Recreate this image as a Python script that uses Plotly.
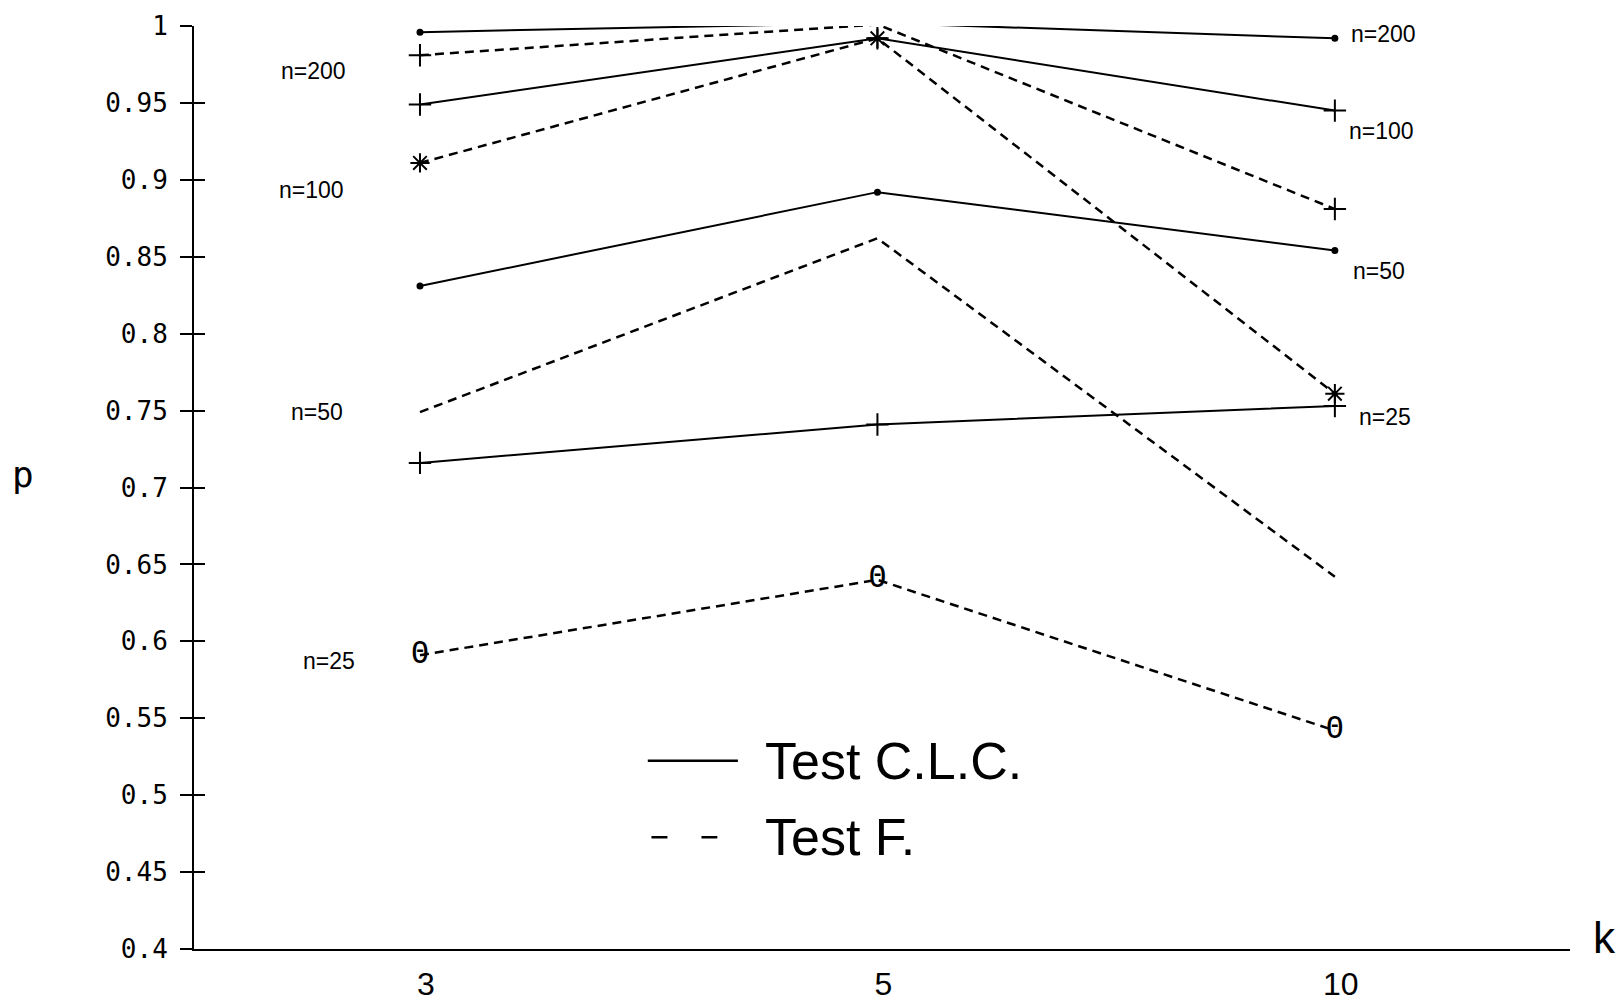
import plotly.graph_objects as go

# ---------------- data ----------------
k_labels = ["3", "5", "10"]
k_pos = [0, 1, 2]

clc_n200 = [0.996, 1.002, 0.992]
clc_n100 = [0.949, 0.992, 0.945]
clc_n50 = [0.831, 0.892, 0.854]
clc_n25 = [0.716, 0.741, 0.753]

f_n200 = [0.981, 1.001, 0.881]
f_n100 = [0.911, 0.992, 0.761]
f_n50 = [0.749, 0.862, 0.642]
f_n25 = [0.591, 0.640, 0.542]

y_tick_vals = [1.0, 0.95, 0.9, 0.85, 0.8, 0.75, 0.7, 0.65, 0.6, 0.55, 0.5, 0.45, 0.4]
y_tick_text = ["1", "0.95", "0.9", "0.85", "0.8", "0.75", "0.7", "0.65", "0.6", "0.55", "0.5", "0.45", "0.4"]

n_labels = ["n=200", "n=100", "n=50", "n=25"]
legend_names = ["Test C.L.C.", "Test F."]

# ---------------- styles ----------------
BLACK = "black"
SANS = "Liberation Sans, Arial, sans-serif"
MONO = "DejaVu Sans Mono, monospace"
DASH = "9px,6px"

fig = go.Figure()


def add_line(vals, dash, width, symbol=None, msize=16, mode="lines+markers"):
    marker = dict(color=BLACK, size=msize, symbol=symbol or "circle",
                  line=dict(color=BLACK, width=2))
    fig.add_trace(go.Scatter(
        x=k_pos, y=vals, mode=mode,
        line=dict(color=BLACK, width=width, dash=dash),
        marker=marker, showlegend=False, hoverinfo="skip", cliponaxis=False))


# Test C.L.C. (solid)
add_line(clc_n200, "solid", 2, "circle", 5)
add_line(clc_n100, "solid", 2, "cross-thin", 16)
add_line(clc_n50, "solid", 2, "circle", 5)
add_line(clc_n25, "solid", 2, "cross-thin", 16)

# Test F. (dashed)
add_line(f_n200, DASH, 2.5, "cross-thin", 16)
add_line(f_n100, DASH, 2.5, "asterisk", 16)
add_line(f_n50, DASH, 2.5, mode="lines")
fig.add_trace(go.Scatter(
    x=k_pos, y=f_n25, mode="lines+text", text=["Θ"] * len(f_n25),
    textposition="middle center",
    textfont=dict(family=MONO, size=30, color=BLACK),
    line=dict(color=BLACK, width=2.5, dash=DASH),
    showlegend=False, hoverinfo="skip", cliponaxis=False))

# ---------------- labels ----------------
left_x = [-0.232, -0.238, -0.225, -0.199]
left_y = [0.9707, 0.8934, 0.7491, 0.5873]
right_x = [2.107, 2.103, 2.096, 2.109]
right_y = [0.9948, 0.9318, 0.8408, 0.7459]

annotations = []
for i, lab in enumerate(n_labels):
    annotations.append(dict(x=left_x[i], y=left_y[i], xref="x", yref="y", text=lab,
                            showarrow=False, xanchor="center", yanchor="middle",
                            font=dict(family=SANS, size=23, color=BLACK)))
    annotations.append(dict(x=right_x[i], y=right_y[i], xref="x", yref="y", text=lab,
                            showarrow=False, xanchor="center", yanchor="middle",
                            font=dict(family=SANS, size=23, color=BLACK)))

# axis titles
annotations.append(dict(x=-0.124, y=0.514, xref="paper", yref="paper", text="p",
                        showarrow=False, xanchor="center", yanchor="middle",
                        font=dict(family=MONO, size=36, color=BLACK)))
annotations.append(dict(x=1.025, y=0.012, xref="paper", yref="paper", text="k",
                        showarrow=False, xanchor="center", yanchor="middle",
                        font=dict(family=SANS, size=44, color=BLACK)))

# legend
legend_y = [0.5224, 0.4727]
for name, ly in zip(legend_names, legend_y):
    annotations.append(dict(x=0.749, y=ly, xref="x", yref="y", text=name,
                            showarrow=False, xanchor="left", yanchor="middle",
                            font=dict(family=SANS, size=52, color=BLACK)))

shapes = [
    dict(type="line", xref="x", yref="y", x0=0.498, x1=0.695, y0=legend_y[0], y1=legend_y[0],
         line=dict(color=BLACK, width=2.5)),
    dict(type="line", xref="x", yref="y", x0=0.506, x1=0.650, y0=legend_y[1], y1=legend_y[1],
         line=dict(color=BLACK, width=2.5, dash="16px,34px")),
]

fig.update_layout(
    width=1620, height=1002,
    margin=dict(l=194, r=50, t=26, b=53, autoexpand=False),
    paper_bgcolor="white", plot_bgcolor="white",
    showlegend=False,
    annotations=annotations,
    shapes=shapes,
    xaxis=dict(
        range=[-0.494, 2.514], tickvals=k_pos, ticktext=k_labels,
        showgrid=False, zeroline=False, showline=True, linecolor=BLACK, linewidth=2,
        ticks="", ticklabelstandoff=6, ticklabelshift=6,
        tickfont=dict(family=SANS, size=32, color=BLACK),
    ),
    yaxis=dict(
        range=[0.4, 1.0], tickvals=y_tick_vals, ticktext=y_tick_text,
        showgrid=False, zeroline=False, showline=True, linecolor=BLACK, linewidth=2,
        ticks="outside", ticklen=12, tickwidth=2, tickcolor=BLACK,
        ticklabelstandoff=7,
        tickfont=dict(family=MONO, size=26, color=BLACK),
    ),
    yaxis2=dict(
        range=[0.4, 1.0], overlaying="y", side="left", anchor="x",
        tickvals=y_tick_vals, showticklabels=False,
        showgrid=False, zeroline=False, showline=False,
        ticks="inside", ticklen=11, tickwidth=2, tickcolor=BLACK,
    ),
)

# invisible trace to make yaxis2 render
fig.add_trace(go.Scatter(x=[k_pos[0]], y=[y_tick_vals[-1]], yaxis="y2", mode="markers",
                         marker=dict(opacity=0), showlegend=False, hoverinfo="skip"))

fig.write_html("out.html")
